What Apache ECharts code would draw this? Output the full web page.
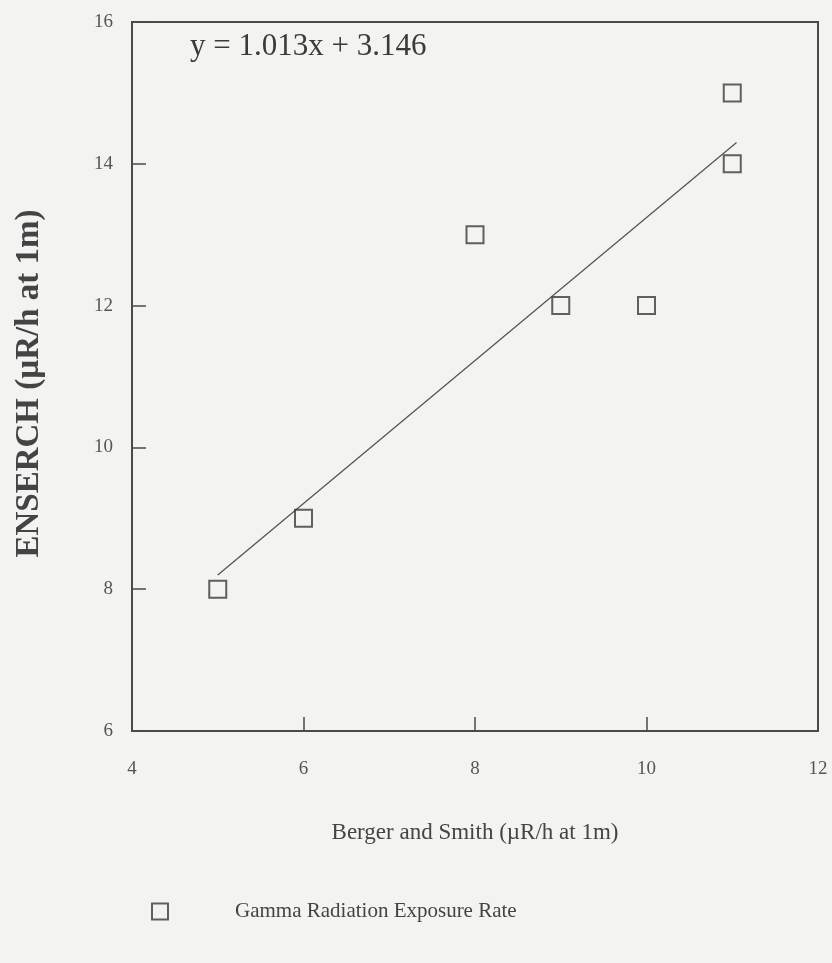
<!DOCTYPE html>
<html>
<head>
<meta charset="utf-8">
<script src="https://cdn.jsdelivr.net/npm/echarts@6/dist/echarts.min.js"></script>
<style>
  html, body { margin: 0; padding: 0; background: #f3f3f1; }
  #chart { width: 832px; height: 963px; }
</style>
</head>
<body>
<div id="chart"></div>
<script>
// measured points
const berger = [5, 6, 8, 9, 10, 11, 11];
const ensearch = [8, 9, 13, 12, 12, 15, 14];
// regression line ends, as drawn
const fitX = [5, 11.05];
const fitY = [8.2, 14.3];
const equation = 'y = 1.013x + 3.146';

const ink = '#4a4a4a';
const serif = '"Liberation Serif", "DejaVu Serif", serif';

const chart = echarts.init(document.getElementById('chart'));

chart.setOption({
  backgroundColor: '#f3f3f1',
  animation: false,
  grid: {
    left: 132,
    right: 14,
    top: 22,
    bottom: 232,
    show: true,
    borderColor: ink,
    borderWidth: 2,
    backgroundColor: 'transparent'
  },
  xAxis: {
    type: 'value',
    min: 4,
    max: 12,
    interval: 2,
    name: 'Berger and Smith (µR/h at 1m)',
    nameLocation: 'middle',
    nameGap: 90,
    nameTextStyle: { fontFamily: serif, fontSize: 23, color: '#444' },
    axisLine: { show: true, lineStyle: { color: ink, width: 2 } },
    axisTick: { show: true, inside: true, length: 14, lineStyle: { color: ink, width: 1.5 } },
    axisLabel: { fontFamily: serif, fontSize: 19, color: '#555', margin: 29 },
    splitLine: { show: false }
  },
  yAxis: {
    type: 'value',
    min: 6,
    max: 16,
    interval: 2,
    name: 'ENSERCH (µR/h at 1m)',
    nameLocation: 'middle',
    nameGap: 86,
    nameTextStyle: { fontFamily: serif, fontSize: 33, fontWeight: 'bold', color: '#444', padding: [0, 14, 0, 0] },
    axisLine: { show: true, lineStyle: { color: ink, width: 2 } },
    axisTick: { show: true, inside: true, length: 14, lineStyle: { color: ink, width: 1.5 } },
    axisLabel: { fontFamily: serif, fontSize: 19, color: '#555', margin: 19 },
    splitLine: { show: false }
  },
  legend: {
    left: 146,
    top: 896,
    itemWidth: 16,
    itemHeight: 16,
    data: ['Gamma Radiation Exposure Rate'],
    textStyle: { fontFamily: serif, fontSize: 21, color: '#444', padding: [0, 0, 0, 62] }
  },
  graphic: [
    {
      type: 'text',
      left: 190,
      top: 31,
      style: { text: equation, font: '31px ' + serif, fill: '#3a3a3a' }
    }
  ],
  series: [
    {
      name: 'Fit',
      type: 'line',
      data: fitX.map((x, i) => [x, fitY[i]]),
      showSymbol: false,
      symbol: 'none',
      lineStyle: { color: '#555', width: 1.3 },
      z: 1
    },
    {
      name: 'Gamma Radiation Exposure Rate',
      type: 'scatter',
      data: berger.map((x, i) => [x, ensearch[i]]),
      symbol: 'rect',
      symbolSize: 17,
      itemStyle: { color: 'rgba(0,0,0,0)', borderColor: '#3a3a3a', borderWidth: 2 },
      z: 2
    }
  ]
});
</script>
</body>
</html>
